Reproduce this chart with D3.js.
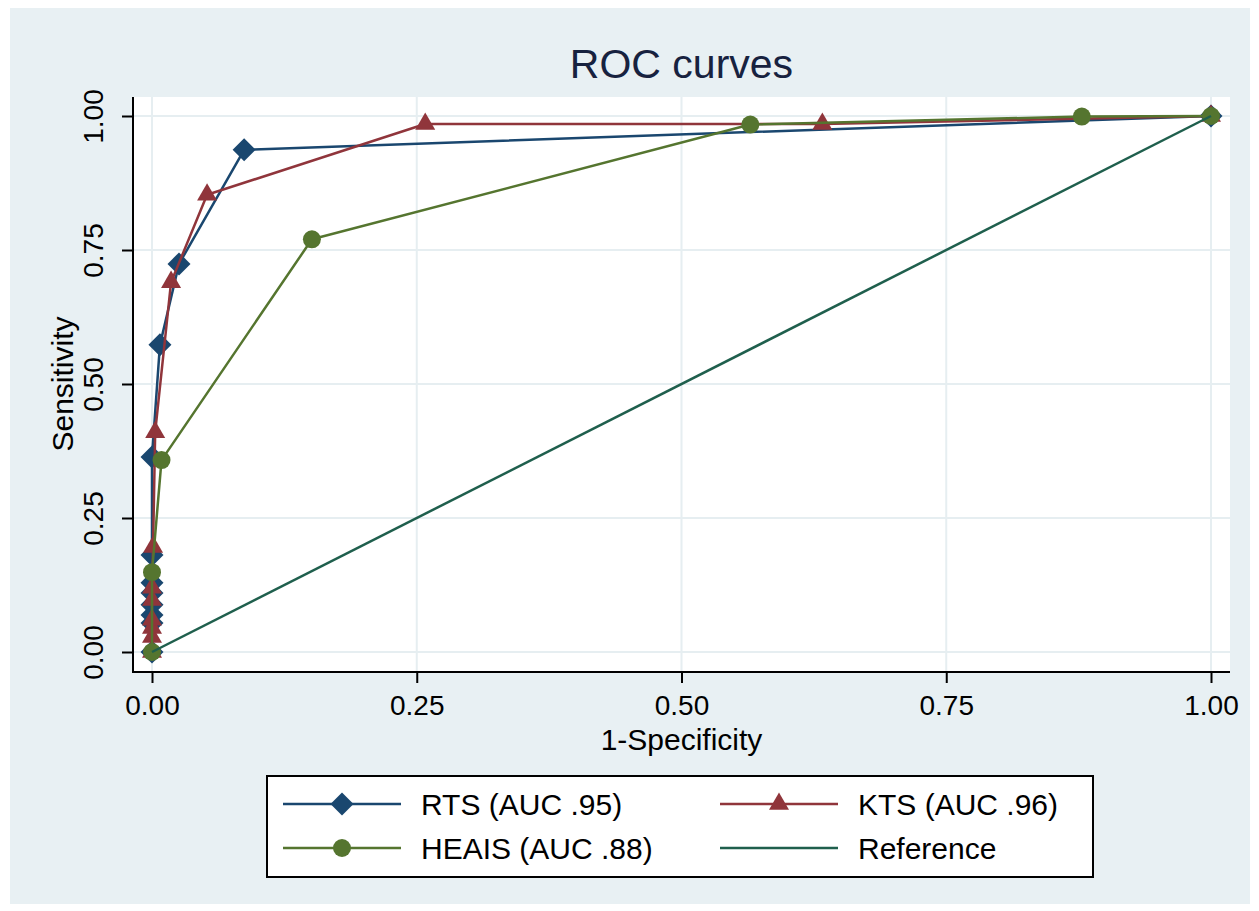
<!DOCTYPE html>
<html>
<head>
<meta charset="utf-8">
<script src="https://cdn.jsdelivr.net/npm/d3@7"></script>
<style>
  html, body { margin: 0; padding: 0; background: #ffffff; }
  svg { display: block; }
  text { font-family: "Liberation Sans", Arial, Helvetica, sans-serif; }
</style>
</head>
<body>
<svg id="chart" width="1259" height="911"></svg>
<script>
// ---- data ----
const rtsX   = [0, 0, 0, 0, 0, 0, 0, 0, 0.0075, 0.0255, 0.087, 1];
const rtsY   = [0, 0.054, 0.069, 0.088, 0.11, 0.129, 0.181, 0.364, 0.573, 0.724, 0.937, 1];
const ktsX   = [0, 0, 0, 0, 0, 0, 0.001, 0.003, 0.018, 0.052, 0.258, 0.633, 1];
const ktsY   = [0, 0.028, 0.045, 0.06, 0.097, 0.12, 0.196, 0.41, 0.69, 0.853, 0.985, 0.985, 1];
const heaisX = [0, 0, 0.009, 0.151, 0.565, 0.878, 1];
const heaisY = [0, 0.149, 0.358, 0.77, 0.984, 0.999, 1];
const refX   = [0, 1];
const refY   = [0, 1];
const seriesNames = ["RTS (AUC .95)", "KTS (AUC .96)", "HEAIS (AUC .88)", "Reference"];
const xTicks = [0, 0.25, 0.5, 0.75, 1];
const yTicks = [0, 0.25, 0.5, 0.75, 1];
const titleText = "ROC curves";
const xTitle = "1-Specificity";
const yTitle = "Sensitivity";

// ---- styles ----
const colors = { rts: "#1a476f", kts: "#90353b", heais: "#55752f", ref: "#1f5f4d" };
const bg = "#e8f0f3";
const gridColor = "#e6eef1";

const svg = d3.select("#chart");

// outer background
svg.append("rect").attr("x", 10).attr("y", 8).attr("width", 1240).attr("height", 896).attr("fill", bg);

// plot region
const plotL = 133, plotR = 1230, plotT = 97, plotB = 672;
svg.append("rect").attr("x", plotL).attr("y", plotT).attr("width", plotR - plotL).attr("height", plotB - plotT).attr("fill", "#ffffff");

const x = d3.scaleLinear().domain([0, 1]).range([152, 1211]);
const y = d3.scaleLinear().domain([0, 1]).range([652, 116]);

// grid
const g = svg.append("g");
g.selectAll("line.vg").data(xTicks).enter().append("line")
  .attr("x1", d => x(d)).attr("x2", d => x(d)).attr("y1", plotT).attr("y2", plotB)
  .attr("stroke", gridColor).attr("stroke-width", 2);
g.selectAll("line.hg").data(yTicks).enter().append("line")
  .attr("x1", plotL).attr("x2", plotR).attr("y1", d => y(d)).attr("y2", d => y(d))
  .attr("stroke", gridColor).attr("stroke-width", 2);

// axes
const fmt = d3.format(".2f");
const xAxis = d3.axisBottom(x).tickValues(xTicks).tickFormat(fmt).tickSize(11).tickSizeOuter(0);
const yAxis = d3.axisLeft(y).tickValues(yTicks).tickFormat(fmt).tickSize(11).tickSizeOuter(0);

const gx = svg.append("g").attr("transform", `translate(0,${plotB})`).call(xAxis);
gx.select(".domain").remove();
svg.append("line").attr("x1", plotL - 1).attr("x2", plotR).attr("y1", plotB).attr("y2", plotB).attr("stroke", "#000").attr("stroke-width", 2);
gx.selectAll(".tick line").attr("stroke", "#000").attr("stroke-width", 2);
gx.selectAll(".tick text").attr("font-size", 28).attr("fill", "#000")
  .attr("dy", null).attr("y", 43);

const gy = svg.append("g").attr("transform", `translate(${plotL},0)`).call(yAxis);
gy.select(".domain").remove();
svg.append("line").attr("x1", plotL).attr("x2", plotL).attr("y1", plotT).attr("y2", plotB + 1).attr("stroke", "#000").attr("stroke-width", 2);
gy.selectAll(".tick line").attr("stroke", "#000").attr("stroke-width", 2);
gy.selectAll(".tick text").attr("font-size", 28).attr("fill", "#000")
  .attr("x", null).attr("dy", null).attr("text-anchor", "middle")
  .attr("transform", "translate(-30,0) rotate(-90)");

// titles
svg.append("text").attr("x", x(0.5)).attr("y", 78).attr("text-anchor", "middle")
  .attr("font-size", 41).attr("fill", "#17223f").text(titleText);
svg.append("text").attr("x", x(0.5)).attr("y", 750).attr("text-anchor", "middle")
  .attr("font-size", 30).attr("fill", "#000").text(xTitle);
svg.append("text").attr("transform", `translate(73,${y(0.5)}) rotate(-90)`).attr("text-anchor", "middle")
  .attr("font-size", 30).attr("fill", "#000").text(yTitle);

// marker shapes
const diamond = r => `M0,${-r}L${r},0L0,${r}L${-r},0Z`;
const triangle = s => { const h = s * Math.sqrt(3) / 2; return `M0,${-2*h/3}L${s/2},${h/3}L${-s/2},${h/3}Z`; };
const circle = r => `M${r},0A${r},${r},0,1,1,${-r},0A${r},${r},0,1,1,${r},0Z`;

const line = d3.line().x(d => x(d[0])).y(d => y(d[1]));

function drawSeries(xs, ys, color, shape) {
  const pts = xs.map((v, i) => [v, ys[i]]);
  const sg = svg.append("g");
  sg.append("path").datum(pts).attr("d", line).attr("fill", "none")
    .attr("stroke", color).attr("stroke-width", 2.5).attr("stroke-linejoin", "round");
  if (shape) {
    sg.selectAll("path.m").data(pts).enter().append("path")
      .attr("transform", d => `translate(${x(d[0])},${y(d[1])})`)
      .attr("d", shape).attr("fill", color);
  }
}

drawSeries(rtsX, rtsY, colors.rts, diamond(11.5));
drawSeries(ktsX, ktsY, colors.kts, triangle(20));
drawSeries(heaisX, heaisY, colors.heais, circle(9));
drawSeries(refX, refY, colors.ref, null);

// legend
const lg = svg.append("g");
lg.append("rect").attr("x", 267).attr("y", 776).attr("width", 826).attr("height", 101)
  .attr("fill", "#fff").attr("stroke", "#000").attr("stroke-width", 2);
const legendItems = [
  { name: seriesNames[0], color: colors.rts, shape: diamond(11.5), lx: 283, row: 0 },
  { name: seriesNames[1], color: colors.kts, shape: triangle(20), lx: 720, row: 0 },
  { name: seriesNames[2], color: colors.heais, shape: circle(9), lx: 283, row: 1 },
  { name: seriesNames[3], color: colors.ref, shape: null, lx: 720, row: 1 }
];
const rowY = [804, 848];
legendItems.forEach(it => {
  const yy = rowY[it.row];
  lg.append("line").attr("x1", it.lx).attr("x2", it.lx + 118).attr("y1", yy).attr("y2", yy)
    .attr("stroke", it.color).attr("stroke-width", 2.5);
  if (it.shape) {
    lg.append("path").attr("transform", `translate(${it.lx + 59},${yy})`).attr("d", it.shape).attr("fill", it.color);
  }
  lg.append("text").attr("x", it.lx + 138).attr("y", yy + 11).attr("font-size", 30).attr("fill", "#000").text(it.name);
});
</script>
</body>
</html>
